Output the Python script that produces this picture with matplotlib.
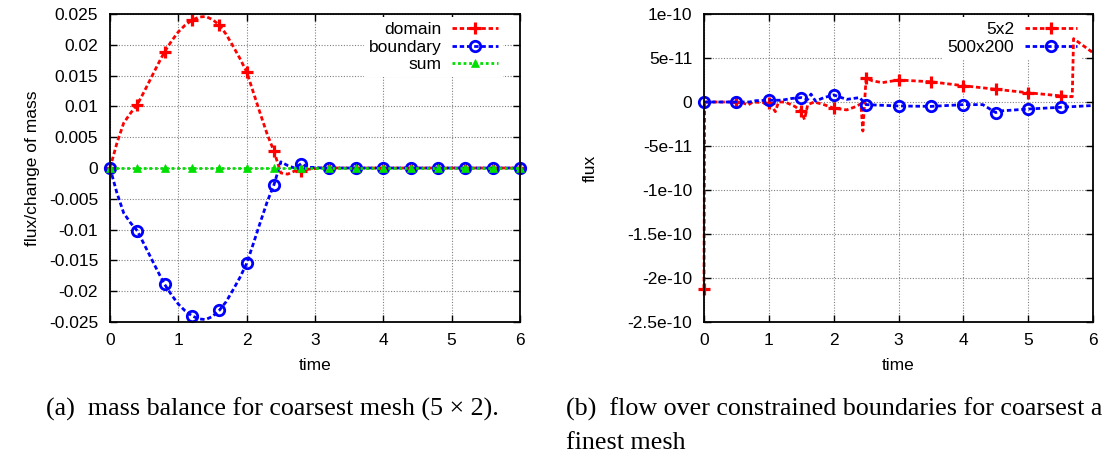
import numpy as np
import matplotlib
matplotlib.use('Agg')
import matplotlib.pyplot as plt

# (a) mass balance, coarsest mesh, sampled every 0.1 in time
time_a = [round(0.1 * i, 1) for i in range(61)]
domain = [0.0, 0.0040, 0.0073, 0.0089, 0.0103, 0.0124, 0.0146, 0.0168, 0.0189, 0.0206,
          0.0221, 0.0232, 0.0240, 0.0245, 0.0246, 0.0241, 0.0232, 0.0217, 0.0198, 0.0178,
          0.0156, 0.0122, 0.0088, 0.0055, 0.0027, -0.0008, -0.0010, -0.0005, -0.0005, -0.0002,
          -0.0001] + [0.0] * 30
boundary = [0.0, -0.0040, -0.0073, -0.0089, -0.0102, -0.0124, -0.0146, -0.0168, -0.0189, -0.0206,
            -0.0221, -0.0232, -0.0240, -0.0245, -0.0246, -0.0241, -0.0231, -0.0217, -0.0198, -0.0178,
            -0.0155, -0.0122, -0.0088, -0.0055, -0.0027, 0.0010, 0.0004, 0.0000, 0.0007, 0.0001,
            0.0001] + [0.0] * 30
mass_sum = [0.0] * 61

yticks_a = [0.025, 0.02, 0.015, 0.01, 0.005, 0, -0.005, -0.01, -0.015, -0.02, -0.025]
ylabels_a = ['0.025', '0.02', '0.015', '0.01', '0.005', '0', '-0.005', '-0.01', '-0.015', '-0.02', '-0.025']

# (b) flux over constrained boundaries (values in units of 1e-11)
time_coarse = [0.0, 0.01, 0.5, 0.6, 0.68, 0.75, 1.0, 1.05, 1.1, 1.15, 1.25, 1.4, 1.5, 1.55, 1.6,
               1.7, 1.85, 2.0, 2.2, 2.35, 2.42, 2.45, 2.5, 2.6, 2.75, 3.0, 3.5, 4.0, 4.5, 5.0,
               5.5, 5.68, 5.7, 6.0]
flux_coarse = [-21.2, 0.0, 0.0, -0.1, -0.35, 0.0, -0.1, -0.5, -1.1, 0.0, 0.0, -0.5, -1.0, -2.0, -0.3,
               0.0, -0.3, -0.7, -0.9, -0.5, -0.2, -3.3, 2.7, 2.4, 2.2, 2.5, 2.3, 1.85, 1.45, 1.05,
               0.7, 0.6, 7.2, 5.6]
time_fine = [0.0, 0.5, 0.7, 0.8, 1.0, 1.2, 1.35, 1.5, 1.6, 1.65, 1.72, 1.85, 2.0, 2.2, 2.4,
             2.5, 3.0, 3.5, 4.0, 4.3, 4.5, 4.6, 5.0, 5.5, 6.0]
flux_fine = [0.0, 0.0, 0.0, 0.15, 0.2, 0.2, 0.4, 0.5, 0.3, 0.9, 0.1, 0.5, 0.8, 0.3, 0.5,
             -0.3, -0.45, -0.5, -0.3, -0.3, -1.2, -1.0, -0.8, -0.6, -0.4]
marker_times_b = [0.0, 0.5, 1.0, 1.5, 2.0, 2.5, 3.0, 3.5, 4.0, 4.5, 5.0, 5.5]

yticks_b = [1e-10, 5e-11, 0, -5e-11, -1e-10, -1.5e-10, -2e-10, -2.5e-10]
ylabels_b = ['1e-10', '5e-11', '0', '-5e-11', '-1e-10', '-1.5e-10', '-2e-10', '-2.5e-10']

xticks = [0, 1, 2, 3, 4, 5, 6]

SANS = 'Liberation Sans'
FS = 12.5
LINE = (0, (1.6, 1.0))


def style_axes(ax):
    ax.grid(True, color='0.5', linestyle=(0, (1, 1.5)), linewidth=0.8, zorder=0.5)
    ax.set_axisbelow(True)
    for s in ax.spines.values():
        s.set_linewidth(1.3)
    ax.tick_params(direction='in', top=True, right=True, length=5, width=1,
                   labelsize=FS)
    ax.tick_params(axis='x', pad=8)
    ax.tick_params(axis='y', pad=8.5)
    ax.set_xlim(0, 6)
    ax.set_xticks(xticks)
    ax.set_xticklabels([str(x) for x in xticks], fontfamily=SANS)
    ax.set_xlabel('time', fontsize=FS, fontfamily=SANS, labelpad=7)


def add_legend(ax, right, hlen):
    leg = ax.legend(loc='upper right', bbox_to_anchor=(right, 0.99), borderaxespad=0,
                    markerfirst=False, numpoints=1, handlelength=hlen, handletextpad=0.6,
                    labelspacing=0.13, borderpad=0.3, fancybox=False, framealpha=1,
                    prop={'family': SANS, 'size': FS})
    leg.get_frame().set_edgecolor('none')
    # key sits over the grid but under the curves, like gnuplot
    leg.set_zorder(1.5)


def plot_mass_balance(ax):
    ax.plot(time_a, domain, color='red', linestyle=LINE, linewidth=2, marker='+',
            markersize=9, markeredgewidth=2.3, markevery=4, label='domain', clip_on=False)
    ax.plot(time_a, boundary, color='blue', linestyle=LINE, linewidth=2, marker='o',
            markersize=7.5, markeredgewidth=2, markerfacecolor='none', markevery=4,
            label='boundary', clip_on=False)
    ax.plot(time_a, mass_sum, color='#00e000', linestyle=(0, (1, 1)), linewidth=2, marker='^',
            markersize=6, markeredgewidth=0.5, markevery=4, label='sum', clip_on=False)
    style_axes(ax)
    ax.set_ylim(-0.025, 0.025)
    ax.set_yticks(yticks_a)
    ax.set_yticklabels(ylabels_a, fontfamily=SANS, fontsize=FS)
    ax.set_ylabel('flux/change of mass', fontsize=FS, fontfamily=SANS, labelpad=6)
    add_legend(ax, 0.959, 2.65)


def plot_flux(ax):
    fine_scaled = [v * 1e-11 for v in flux_fine]
    coarse_scaled = [v * 1e-11 for v in flux_coarse]
    coarse_marks = [time_coarse.index(t) for t in marker_times_b]
    fine_marks = [time_fine.index(t) for t in marker_times_b]
    ax.plot(time_coarse, coarse_scaled, color='red', linestyle=LINE, linewidth=2, marker='+',
            markersize=9, markeredgewidth=2.3, markevery=coarse_marks, label='5x2',
            clip_on=False)
    ax.plot(time_fine, fine_scaled, color='blue', linestyle=LINE, linewidth=2, marker='o',
            markersize=7.5, markeredgewidth=2, markerfacecolor='none', markevery=fine_marks,
            label='500x200', clip_on=False)
    style_axes(ax)
    ax.set_ylim(-2.5e-10, 1e-10)
    ax.set_yticks(yticks_b)
    ax.set_yticklabels(ylabels_b, fontfamily=SANS, fontsize=FS)
    ax.set_ylabel('flux', fontsize=FS, fontfamily=SANS, labelpad=21)
    add_legend(ax, 0.972, 3.0)


def main():
    W, H = 1105, 455
    fig = plt.figure(figsize=(W / 100, H / 100), dpi=100)
    ax1 = fig.add_axes([110 / W, 1 - 322 / H, 410 / W, 308 / H])
    ax2 = fig.add_axes([704 / W, 1 - 322 / H, 389 / W, 308 / H])
    plot_mass_balance(ax1)
    plot_flux(ax2)

    cap = {'family': 'Liberation Serif', 'size': 18.7}
    fig.text(46 / W, 1 - 409 / H, '(a)  mass balance for coarsest mesh (5 \u00d7 2).',
             va='center', ha='left', fontdict=cap)
    fig.text(566 / W, 1 - 409 / H, '(b)  flow over constrained boundaries for coarsest a',
             va='center', ha='left', fontdict=cap)
    fig.text(566 / W, 1 - 443 / H, 'finest mesh', va='center', ha='left', fontdict=cap)

    fig.savefig('out.png', dpi=100)


if __name__ == '__main__':
    main()
